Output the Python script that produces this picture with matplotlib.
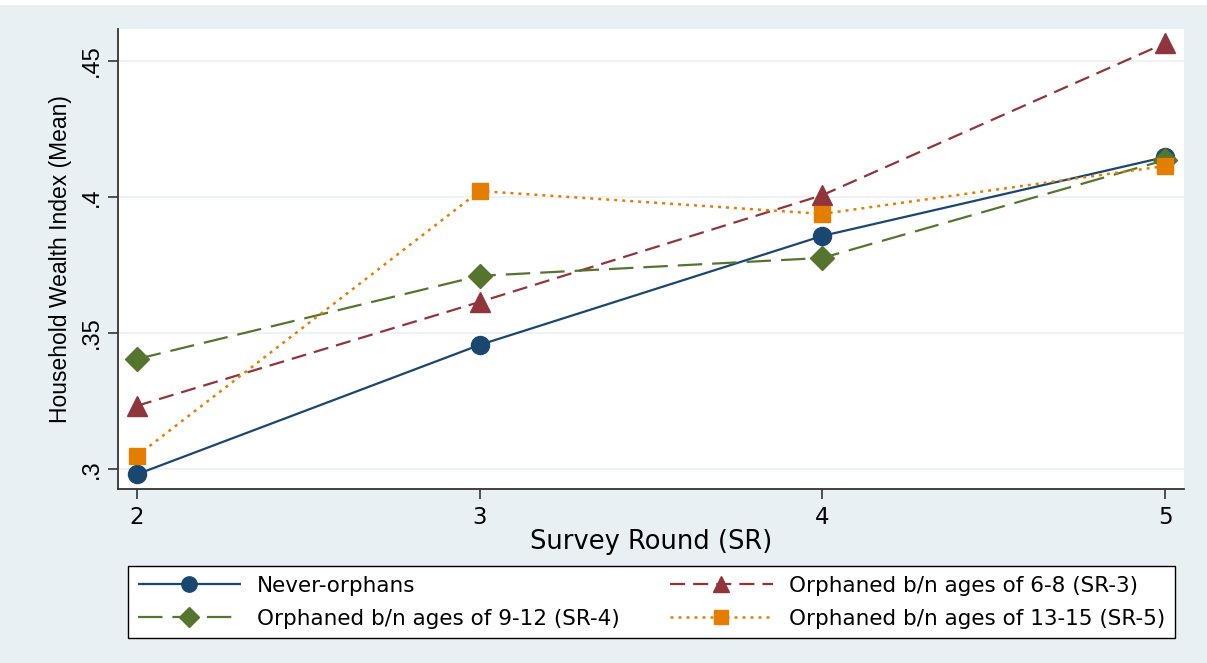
import matplotlib.pyplot as plt
from matplotlib.patches import Rectangle

# mean household wealth index by survey round
rounds = [2, 3, 4, 5]
never_orphans = [0.298, 0.3456, 0.3857, 0.4147]
orphan_6_8 = [0.3232, 0.3614, 0.4007, 0.4566]
orphan_9_12 = [0.3404, 0.371, 0.3776, 0.4136]
orphan_13_15 = [0.3048, 0.4022, 0.3938, 0.4114]

labels = ['Never-orphans',
          'Orphaned b/n ages of 9-12 (SR-4)',
          'Orphaned b/n ages of 6-8 (SR-3)',
          'Orphaned b/n ages of 13-15 (SR-5)']
yticks = [0.3, 0.35, 0.4, 0.45]
ytick_labels = ['.3', '.35', '.4', '.45']

bg = '#e9f0f3'
navy = '#1a476f'
maroon = '#90353b'
green = '#55752f'
orange = '#e37e00'

fig = plt.figure(figsize=(12.07, 6.63), dpi=100, facecolor=bg)
fig.patches.append(Rectangle((0, 0.992), 1, 0.008, transform=fig.transFigure,
                             facecolor='white', edgecolor='none', zorder=0))
ax = fig.add_axes([0.0978, 0.2624, 0.8832, 0.6939])
ax.set_facecolor('white')

l1, = ax.plot(rounds, never_orphans, color=navy, lw=1.6, marker='o', ms=13,
              solid_capstyle='butt')
l3, = ax.plot(rounds, orphan_6_8, color=maroon, lw=1.6, marker='^', ms=14,
              dashes=(6.8, 3.6))
l2, = ax.plot(rounds, orphan_9_12, color=green, lw=1.6, marker='D', ms=12,
              dashes=(11, 4.5))
l4, = ax.plot(rounds, orphan_13_15, color=orange, lw=1.8, marker='s', ms=12,
              dashes=(1.2, 2.0), dash_capstyle='butt')

ax.set_xlim(1.945, 5.055)
ax.set_ylim(0.2926, 0.4618)
ax.set_xticks(rounds)
ax.set_yticks(yticks)
ax.set_yticklabels(ytick_labels, rotation=90, va='center',
                   family='Liberation Sans', fontsize=17)
ax.set_xticklabels([str(r) for r in rounds], fontsize=16.5)
ax.grid(axis='y', color='#eaf1f4', lw=1.2)
ax.set_axisbelow(True)
for s in ['top', 'right']:
    ax.spines[s].set_visible(False)
for s in ['left', 'bottom']:
    ax.spines[s].set_color('#333333')
    ax.spines[s].set_linewidth(1.3)
ax.tick_params(axis='both', direction='out', length=7, width=1.2, color='#333333')
ax.tick_params(axis='x', pad=5)
ax.tick_params(axis='y', pad=4)

ax.set_xlabel('Survey Round (SR)', fontsize=18.5, labelpad=0)
ax.set_ylabel('Household Wealth Index (Mean)', family='Liberation Sans',
              fontsize=16.5, labelpad=6)

leg = ax.legend([l1, l2, l3, l4], labels, ncol=2, loc='center', mode='expand',
                bbox_to_anchor=(0.106, 0.035, 0.8675, 0.113),
                bbox_transform=fig.transFigure, fontsize=15.5, markerscale=0.85,
                handlelength=4.8, handletextpad=0.75, borderaxespad=0,
                borderpad=0.45, fancybox=False, edgecolor='black', framealpha=1,
                labelspacing=0.6)
leg.get_frame().set_linewidth(1.0)

fig.savefig('out.png', dpi=100, facecolor=bg)
